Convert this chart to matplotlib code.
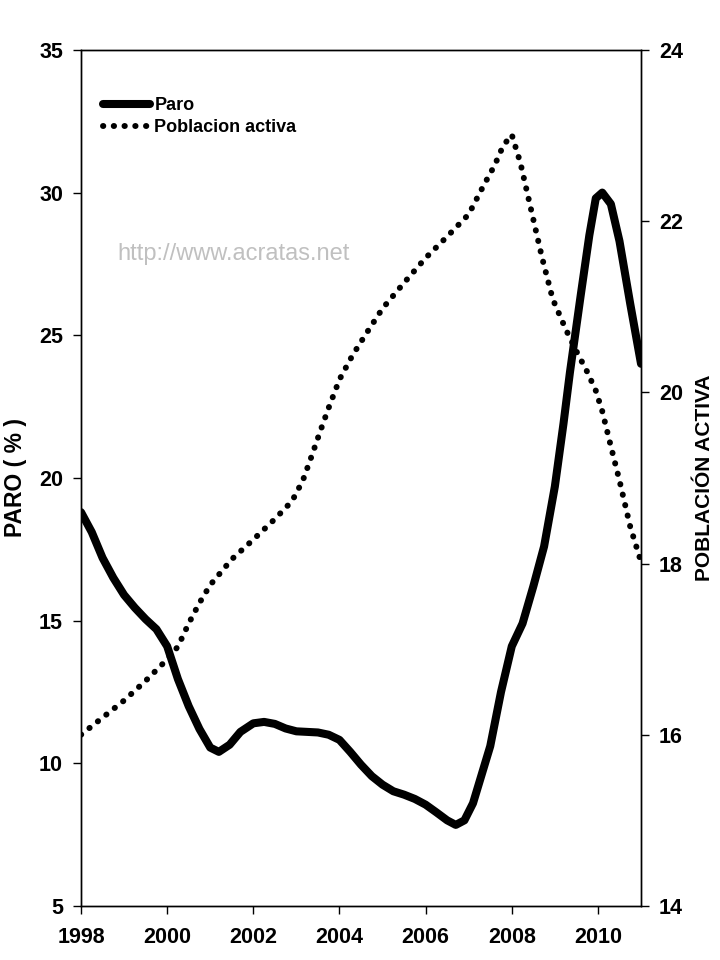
import matplotlib.pyplot as plt

plt.rcParams['font.family'] = ['Liberation Sans', 'DejaVu Sans']

# Paro (%) - left axis
paro_years = [1998.0, 1998.25, 1998.5, 1998.75, 1999.0, 1999.25, 1999.5, 1999.75,
              2000.0, 2000.25, 2000.5, 2000.75, 2001.0, 2001.2, 2001.45, 2001.7,
              2002.0, 2002.25, 2002.5, 2002.75, 2003.0, 2003.25, 2003.5, 2003.75,
              2004.0, 2004.25, 2004.5, 2004.75, 2005.0, 2005.25, 2005.5, 2005.75,
              2006.0, 2006.25, 2006.5, 2006.7, 2006.9, 2007.1, 2007.3, 2007.5,
              2007.75, 2008.0, 2008.25, 2008.5, 2008.75, 2009.0, 2009.2, 2009.35,
              2009.6, 2009.8, 2009.95, 2010.1, 2010.3, 2010.5, 2010.75, 2011.0]
paro = [18.8, 18.1, 17.2, 16.5, 15.9, 15.45, 15.05, 14.7,
        14.1, 12.95, 12.0, 11.2, 10.55, 10.4, 10.65, 11.1,
        11.4, 11.45, 11.38, 11.22, 11.12, 11.1, 11.08, 11.0,
        10.82, 10.4, 9.95, 9.55, 9.25, 9.02, 8.9, 8.75,
        8.55, 8.28, 8.0, 7.84, 8.0, 8.6, 9.6, 10.6,
        12.5, 14.1, 14.9, 16.2, 17.6, 19.7, 21.9, 23.7,
        26.4, 28.5, 29.8, 30.0, 29.6, 28.3, 26.1, 24.0]

# Poblacion activa - right axis
pob_years = [1998.0, 1998.5, 1999.0, 1999.5, 2000.0, 2000.25, 2000.5, 2000.75,
             2001.0, 2001.5, 2002.0, 2002.5, 2002.9, 2003.15, 2003.35, 2003.55,
             2003.75, 2004.0, 2004.3, 2004.6, 2005.0, 2005.5, 2006.0, 2006.5,
             2007.0, 2007.35, 2007.6, 2007.8, 2008.0, 2008.2, 2008.45, 2008.7,
             2008.95, 2009.25, 2009.5, 2009.75, 2009.95, 2010.1, 2010.3, 2010.5,
             2010.75, 2011.0]
pob = [16.0, 16.2, 16.4, 16.63, 16.88, 17.03, 17.3, 17.54,
       17.75, 18.05, 18.28, 18.52, 18.73, 18.97, 19.25, 19.54,
       19.82, 20.15, 20.43, 20.67, 20.98, 21.28, 21.57, 21.82,
       22.08, 22.42, 22.65, 22.88, 23.01, 22.68, 22.13, 21.58,
       21.09, 20.74, 20.48, 20.24, 20.02, 19.78, 19.37, 18.97,
       18.43, 18.02]

x_ticks = [1998, 2000, 2002, 2004, 2006, 2008, 2010]
left_ticks = [5, 10, 15, 20, 25, 30, 35]
right_ticks = [14, 16, 18, 20, 22, 24]

fig = plt.figure(figsize=(7.2, 9.6), dpi=100)
ax = fig.add_axes([0.1125, 0.0563, 0.7778, 0.8917])
ax2 = ax.twinx()

l1, = ax.plot(paro_years, paro, color='black', lw=5.8, solid_capstyle='round',
              solid_joinstyle='round', label='Paro')
l2, = ax2.plot(pob_years, pob, color='black', lw=4.3, dash_capstyle='round',
               linestyle=(0, (0.05, 1.75)), label='Poblacion activa')

ax.set_xlim(1998, 2011)
ax.set_ylim(5, 35)
ax2.set_ylim(14, 24)
ax.set_xticks(x_ticks)
ax.set_yticks(left_ticks)
ax2.set_yticks(right_ticks)

for a in (ax, ax2):
    a.tick_params(direction='out', length=6, width=1, labelsize=15.5, pad=7)
    for lab in a.get_xticklabels() + a.get_yticklabels():
        lab.set_fontweight('bold')
    for s in a.spines.values():
        s.set_linewidth(1)
ax.tick_params(axis='x', pad=9)

ax.set_ylabel('PARO ( % )', fontsize=16.5, fontweight='bold')
ax.yaxis.set_label_coords(-0.096, 0.5)
ax2.set_ylabel('POBLACIÓN ACTIVA', fontsize=15, fontweight='bold')
ax2.yaxis.set_label_coords(1.096, 0.5)

ax.text(0.065, 0.762, 'http://www.acratas.net', transform=ax.transAxes,
        color='#c0c0c0', fontsize=17, ha='left', va='center')

leg = ax.legend(handles=[l1, l2], loc='upper left', bbox_to_anchor=(0.01, 0.964),
                frameon=False, handlelength=2.6, handletextpad=0.25,
                labelspacing=0.3, prop={'weight': 'bold', 'size': 13})

fig.savefig('out.png', dpi=100)
